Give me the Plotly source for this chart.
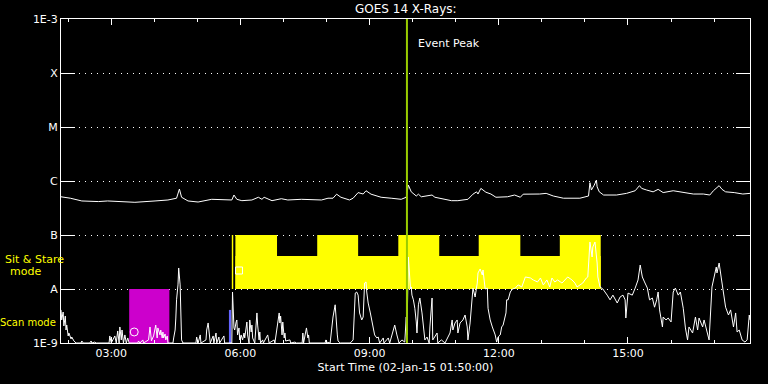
import plotly.graph_objects as go

DAY = "2015-01-02 "

# Long channel (upper curve) : time, flux W/m^2
UP_T = ["01:50","02:03","02:19","02:42","02:55","03:33","04:01","04:19","04:31","04:35","04:38","04:47",
        "05:01","05:20","05:48","05:51","05:55","06:02","06:16","06:25","06:30","06:33","06:44","06:57",
        "07:06","07:25","07:53","08:02","08:09","08:14","08:20","08:32","08:37","08:44","08:51","08:55",
        "09:02","09:16","09:30","09:44","09:51","09:54","09:58","10:05","10:08","10:12","10:27","10:31",
        "10:54","11:03","11:17","11:24","11:29","11:31","11:35","11:42","11:49","11:56","12:12","12:22",
        "12:30","12:34","12:57","13:06","13:16","13:30","13:53","14:05","14:07","14:09","14:13","14:16",
        "14:17","14:20","14:26","14:44","14:58","15:10","15:16","15:19","15:26","15:35","15:42","15:49",
        "16:03","16:17","16:31","16:45","16:54","16:59","17:04","17:07","17:11","17:16","17:28","17:40","17:50"]
UP_F = [5.1e-7,4.8e-7,4.27e-7,4.16e-7,4.27e-7,4.03e-7,4.27e-7,4.45e-7,4.8e-7,7.1e-7,5.0e-7,4.27e-7,
        4.08e-7,4.58e-7,4.45e-7,5.5e-7,4.58e-7,4.32e-7,4.45e-7,5.0e-7,4.58e-7,5.0e-7,4.32e-7,4.7e-7,
        4.45e-7,4.58e-7,4.45e-7,4.8e-7,4.8e-7,5.7e-7,5.0e-7,4.45e-7,4.8e-7,6.1e-7,5.74e-7,6.6e-7,
        5.7e-7,5.0e-7,4.8e-7,4.58e-7,5.0e-7,8.4e-7,6.3e-7,5.27e-7,5.7e-7,5.1e-7,5.5e-7,5.0e-7,
        4.32e-7,4.32e-7,4.58e-7,5.7e-7,6.3e-7,5.74e-7,7.3e-7,6.2e-7,5.74e-7,5.0e-7,5.1e-7,5.5e-7,
        5.0e-7,5.7e-7,5.74e-7,5.9e-7,5.27e-7,4.8e-7,4.8e-7,5.27e-7,9.3e-7,6.8e-7,8.4e-7,1.04e-6,
        7.8e-7,6.3e-7,5.5e-7,5.5e-7,5.9e-7,6.6e-7,8.2e-7,7.3e-7,6.8e-7,6.3e-7,7.0e-7,6.1e-7,
        6.6e-7,6.1e-7,5.74e-7,5.74e-7,5.5e-7,6.6e-7,7.6e-7,8.2e-7,7.0e-7,6.3e-7,6.1e-7,5.74e-7,5.9e-7]

# Short channel (lower curve)
LOW_T = ["01:50","01:51","01:53","01:54","01:56","01:57","01:58","02:00","02:01","02:04","02:05","02:08",
         "02:11","02:18","02:19","02:21","02:30","02:32","02:33","02:37","02:39","02:57","02:58","03:00",
         "03:05","03:07","03:09","03:11","03:12","03:14","03:15","03:17","03:19","03:21","03:23","03:25",
         "03:37","03:38","03:40","03:44","03:45","03:52","03:54","03:55","03:56","03:59","04:02","04:04",
         "04:05","04:08","04:09","04:11","04:12","04:13","04:15","04:16","04:18","04:19","04:26","04:27",
         "04:29","04:30","04:31","04:33","04:34","04:36","04:37","04:38","04:40","04:58","04:59","05:01",
         "05:04","05:05","05:12","05:13","05:15","05:16","05:18","05:22","05:23","05:26","05:27","05:30",
         "05:31","05:37","05:38","05:48","05:49","05:51","05:52","05:54","05:55","05:56","05:58","05:59",
         "06:01","06:03","06:05","06:06","06:09","06:10","06:12","06:13","06:15","06:16","06:17","06:20",
         "06:23","06:24","06:26","06:27","06:28","06:31","06:32","06:38","06:40","06:47","06:48","06:54",
         "06:55","06:56","06:58","06:59","07:01","07:02","07:03","07:09","07:10","07:16","07:18","07:26",
         "07:27","07:28","07:32","07:34","07:35","07:36","07:58","07:59","08:00","08:05","08:08","08:09",
         "08:12","08:13","08:15","08:16","08:19","08:33","08:37","08:40","08:42","08:44","08:46","08:49",
         "08:51","08:53","08:55","08:56","08:58","09:01","09:03","09:05","09:07","09:10","09:12","09:14",
         "09:19","09:20","09:26","09:28","09:32","09:35","09:38","09:41","09:45","09:49","09:51","09:52",
         "09:54","09:55","09:57","09:58","09:59","10:01","10:03","10:05","10:06","10:08","10:10","10:13",
         "10:15","10:17","10:20","10:23","10:24","10:27","10:28","10:34","10:35","10:40","10:45","10:52",
         "10:55","10:56","10:59","11:02","11:03","11:06","11:10","11:13","11:16","11:17","11:20","11:23",
         "11:24","11:27","11:30","11:31","11:34","11:37","11:38","11:41","11:44","11:45","11:48","11:51",
         "11:55","11:57","11:59","12:02","12:04","12:06","12:09","12:10","12:11","12:13","12:16","12:19",
         "12:23","12:27","12:32","12:34","12:37","12:44","12:48","12:54","12:58","13:02","13:07","13:11",
         "13:14","13:18","13:22","13:28","13:32","13:36","13:42","13:46","13:49","13:53","13:57","14:02",
         "14:04","14:07","14:10","14:11","14:14","14:17","14:18","14:21","14:25","14:31","14:35","14:39",
         "14:45","14:49","14:53","14:56","14:57","15:00","15:06","15:10","15:14","15:17","15:20","15:23",
         "15:27","15:30","15:34","15:37","15:40","15:42","15:44","15:48","15:49","15:53","15:56","16:00",
         "16:03","16:06","16:10","16:13","16:17","16:20","16:23","16:25","16:30","16:34","16:37","16:39",
         "16:44","16:46","16:50","16:53","16:57","17:00","17:03","17:04","17:07","17:10","17:13","17:16",
         "17:20","17:23","17:27","17:30","17:32","17:35","17:39","17:43","17:46","17:49","17:50"]
LOW_F = [4.1e-9,2.67e-9,3.75e-9,2.07e-9,3.16e-9,1.74e-9,2.15e-9,1.35e-9,1.53e-9,1.19e-9,1.29e-9,1.09e-9,
         1.0e-9,1.0e-9,1.09e-9,1.0e-9,1.0e-9,1.09e-9,1.0e-9,1.04e-9,1.0e-9,1.0e-9,1.35e-9,1.0e-9,
         1.35e-9,1.0e-9,1.67e-9,1.0e-9,1.98e-9,1.14e-9,1.74e-9,1.0e-9,1.41e-9,1.0e-9,1.24e-9,1.0e-9,
         1.0e-9,1.09e-9,1.0e-9,1.14e-9,1.0e-9,1.14e-9,1.98e-9,1.53e-9,1.1e-9,1.35e-9,2.15e-9,1.24e-9,
         1.9e-9,1.41e-9,1.74e-9,1.24e-9,1.6e-9,1.24e-9,1.47e-9,1.14e-9,1.35e-9,1.0e-9,1.0e-9,1.24e-9,
         1.74e-9,2.9e-9,6.3e-9,1.19e-8,2.45e-8,1.19e-8,2.67e-9,1.14e-9,1.0e-9,1.0e-9,1.29e-9,1.0e-9,
         1.41e-9,1.0e-9,1.14e-9,1.74e-9,2.35e-9,1.6e-9,1.0e-9,1.35e-9,1.0e-9,1.53e-9,1.0e-9,1.29e-9,
         1.0e-9,1.35e-9,1.0e-9,1.0e-9,8.8e-9,1.9e-9,1.74e-9,2.45e-9,2.67e-9,1.41e-9,1.9e-9,1.14e-9,
         1.41e-9,1.14e-9,1.53e-9,1.24e-9,2.45e-9,1.41e-9,1.0e-9,2.67e-9,1.6e-9,2.15e-9,1.24e-9,1.0e-9,
         3.6e-9,2.15e-9,1.14e-9,1.6e-9,1.0e-9,1.14e-9,1.0e-9,1.41e-9,1.0e-9,1.14e-9,1.0e-9,3.6e-9,
         2.35e-9,3.16e-9,1.41e-9,2.45e-9,1.24e-9,1.53e-9,1.09e-9,1.14e-9,1.0e-9,1.04e-9,1.0e-9,1.0e-9,
         1.53e-9,1.0e-9,1.9e-9,1.24e-9,1.41e-9,1.0e-9,1.0e-9,1.14e-9,1.04e-9,1.0e-9,2.67e-9,3.03e-9,
         5.1e-9,2.67e-9,1.41e-9,1.09e-9,1.0e-9,1.0e-9,1.14e-9,8.4e-9,8.8e-9,7.7e-9,3.6e-9,2.67e-9,
         3.03e-9,1.29e-8,1.35e-8,8.8e-9,5.5e-9,3.6e-9,2.67e-9,1.98e-9,1.41e-9,1.24e-9,1.29e-9,1.0e-9,
         1.24e-9,1.0e-9,1.24e-9,1.0e-9,1.53e-9,2.15e-9,1.41e-9,1.0e-9,1.14e-9,1.04e-9,3.03e-9,1.41e-9,
         3.92e-8,2.25e-8,1.0e-8,1.09e-8,7.7e-9,6.3e-9,4.4e-9,2.45e-9,1.53e-9,5.1e-9,6.8e-9,3.6e-9,
         1.74e-9,1.14e-9,1.29e-9,1.0e-9,1.98e-9,6.8e-9,1.14e-9,1.53e-9,1.0e-9,1.14e-9,1.0e-9,1.53e-9,
         2.67e-9,1.74e-9,2.35e-9,2.67e-9,1.53e-9,2.35e-9,2.67e-9,3.3e-9,1.98e-9,1.14e-9,2.35e-9,6.8e-9,
         1.04e-8,7.1e-9,1.29e-8,1.98e-8,2.35e-8,1.82e-8,2.25e-8,1.0e-8,1.04e-8,4.4e-9,2.67e-9,1.98e-9,
         1.41e-9,1.04e-9,1.29e-9,1.41e-9,1.98e-9,2.15e-9,3.03e-9,3.6e-9,6.3e-9,6.3e-9,8.8e-9,1.0e-8,
         1.04e-8,1.19e-8,1.09e-8,1.35e-8,1.67e-8,1.6e-8,1.47e-8,1.35e-8,1.6e-8,1.19e-8,1.47e-8,1.09e-8,
         1.6e-8,1.35e-8,1.47e-8,1.29e-8,1.47e-8,1.67e-8,1.47e-8,1.29e-8,1.09e-8,1.19e-8,1.29e-8,1.6e-8,
         1.67e-8,7.4e-8,3.92e-8,6.0e-8,7.4e-8,3.03e-8,1.67e-8,1.09e-8,1.0e-8,7.7e-9,6.3e-9,7.7e-9,
         5.5e-9,7.1e-9,7.7e-9,6.3e-9,2.9e-9,8.4e-9,7.7e-9,1.04e-8,1.47e-8,2.78e-8,1.67e-8,1.35e-8,
         1.04e-8,6.3e-9,6.8e-9,4.6e-9,6.3e-9,8.8e-9,4.1e-9,1.98e-9,3.03e-9,2.67e-9,2.9e-9,2.45e-9,
         8.8e-9,1.04e-8,7.7e-9,8.8e-9,4.4e-9,1.9e-9,1.14e-9,1.98e-9,1.53e-9,3.03e-9,1.74e-9,2.9e-9,
         1.98e-9,2.67e-9,1.74e-9,1.14e-9,1.09e-8,1.82e-8,2.55e-8,1.98e-8,3.03e-8,1.6e-8,7.7e-9,4.6e-9,
         3.3e-9,4.1e-9,1.98e-9,3.6e-9,1.6e-9,1.74e-9,1.14e-9,1.04e-9,1.14e-9,3.3e-9,2.67e-9]

# Observation modes
SCAN_BLOCKS = [("03:25", "04:21")]
SCAN_LEVELS = (1e-9, 1e-8)
SCAN_SHORT = [("05:44", "05:47")]
SCAN_SHORT_LEVELS = (1e-9, 4.1e-9)
STARE_FULL = [("05:48", "05:50"), ("05:53", "06:51"), ("07:47", "08:44"),
              ("09:40", "10:37"), ("11:32", "12:30"), ("13:25", "14:22")]
STARE_FULL_LEVELS = (1e-8, 1e-7)
STARE_LOWER = [("05:53", "14:22")]
STARE_LOWER_LEVELS = (1e-8, 4.08e-8)

EVENT_PEAK = "09:52"
MARK_CIRCLE = ("03:32", 1.6e-9)
MARK_SQUARE = ("05:58", 2.2e-8)

Y_TICKVALS = [1e-9, 1e-8, 1e-7, 1e-6, 1e-5, 1e-4, 1e-3]
Y_TICKTEXT = ["1E-9", "A", "B", "C", "M", "X", "1E-3"]

FONT = "DejaVu Sans"


def ts(t):
    return DAY + t


def rect_path(blocks, levels):
    xs, ys = [], []
    lo, hi = levels
    for a, b in blocks:
        xs += [ts(a), ts(b), ts(b), ts(a), ts(a), None]
        ys += [lo, lo, hi, hi, lo, None]
    return xs, ys


fig = go.Figure()

for blocks, levels, color in [
    (STARE_LOWER, STARE_LOWER_LEVELS, "#FFFF00"),
    (STARE_FULL, STARE_FULL_LEVELS, "#FFFF00"),
    (SCAN_BLOCKS, SCAN_LEVELS, "#CC00CC"),
    (SCAN_SHORT, SCAN_SHORT_LEVELS, "#6464FF"),
]:
    xs, ys = rect_path(blocks, levels)
    fig.add_trace(go.Scatter(x=xs, y=ys, mode="lines", fill="toself", fillcolor=color,
                             line=dict(width=0, color=color), hoverinfo="skip", showlegend=False))

fig.add_trace(go.Scatter(x=[ts(t) for t in UP_T], y=UP_F, mode="lines",
                         line=dict(color="white", width=1), showlegend=False))
fig.add_trace(go.Scatter(x=[ts(t) for t in LOW_T], y=LOW_F, mode="lines",
                         line=dict(color="white", width=1), showlegend=False))

fig.add_trace(go.Scatter(x=[ts(MARK_CIRCLE[0])], y=[MARK_CIRCLE[1]], mode="markers",
                         marker=dict(symbol="circle-open", size=8, color="white", line=dict(width=1)),
                         showlegend=False))
fig.add_trace(go.Scatter(x=[ts(MARK_SQUARE[0])], y=[MARK_SQUARE[1]], mode="markers",
                         marker=dict(symbol="square-open", size=7, color="white", line=dict(width=1)),
                         showlegend=False))

fig.add_trace(go.Scatter(x=[ts(EVENT_PEAK), ts(EVENT_PEAK)], y=[1e-9, 1e-3], mode="lines",
                         line=dict(color="#99CC00", width=2), showlegend=False))

fig.add_annotation(x=ts(EVENT_PEAK), y=0.925, xref="x", yref="paper", text="Event Peak",
                   showarrow=False, xanchor="left", yanchor="middle", xshift=9,
                   font=dict(family=FONT, size=11, color="white"))

fig.add_annotation(x=0.5, y=1.031, xref="paper", yref="paper", text="GOES 14 X-Rays:",
                   showarrow=False, xanchor="center", yanchor="middle",
                   font=dict(family=FONT, size=12, color="white"))

fig.add_annotation(x=-0.039, y=0.259, xref="paper", yref="paper", text="Sit & Stare",
                   showarrow=False, xanchor="center", yanchor="middle",
                   font=dict(family=FONT, size=11, color="#FFFF00"))
fig.add_annotation(x=-0.052, y=0.222, xref="paper", yref="paper", text="mode",
                   showarrow=False, xanchor="center", yanchor="middle",
                   font=dict(family=FONT, size=11, color="#FFFF00"))
fig.add_annotation(x=-0.048, y=0.062, xref="paper", yref="paper", text="Scan mode",
                   showarrow=False, xanchor="center", yanchor="middle",
                   font=dict(family=FONT, size=10, color="#FFFF00"))

fig.update_layout(
    width=768, height=384,
    margin=dict(l=61, r=18, t=19, b=41, autoexpand=False),
    paper_bgcolor="black", plot_bgcolor="black",
    font=dict(family=FONT, size=11, color="white"),
    showlegend=False,
)

fig.update_xaxes(
    type="date", range=[ts("01:50"), ts("17:50")],
    tick0=ts("03:00"), dtick=3 * 3600 * 1000, tickformat="%H:%M",
    ticks="inside", ticklen=6, tickwidth=1, tickcolor="white",
    showline=True, linecolor="white", linewidth=1, mirror="allticks",
    showgrid=False, zeroline=False,
    minor=dict(tick0=ts("02:00"), dtick=3600 * 1000, ticks="inside", ticklen=3,
               tickcolor="white", showgrid=False),
    tickfont=dict(family=FONT, size=11, color="white"),
    title=dict(text="Start Time (02-Jan-15 01:50:00)", standoff=4,
               font=dict(family=FONT, size=11, color="white")),
    automargin=False,
)

fig.update_yaxes(
    type="log", range=[-9, -3],
    tickvals=Y_TICKVALS, ticktext=Y_TICKTEXT,
    ticks="inside", ticklen=14, tickwidth=1, tickcolor="white",
    showline=True, linecolor="white", linewidth=1, mirror="ticks",
    showgrid=True, gridcolor="white", gridwidth=1, griddash="1px,5px",
    zeroline=False,
    tickfont=dict(family=FONT, size=11, color="white"),
    automargin=False,
)

fig.write_html(
    "out.html",
    config={"displayModeBar": False},
    post_script="document.body.style.margin='0';document.body.style.background='black';",
)
